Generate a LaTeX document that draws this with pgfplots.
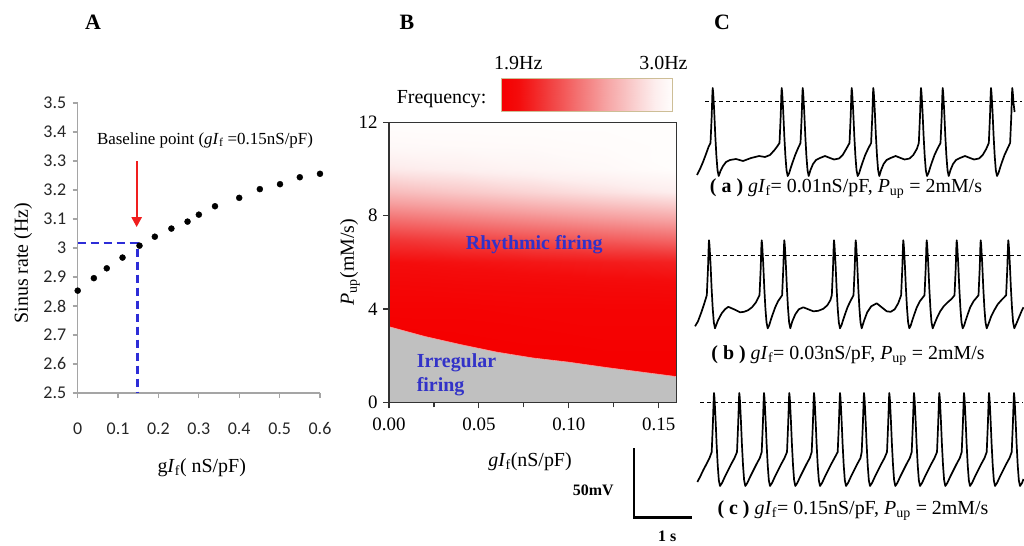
\documentclass[border=0pt]{standalone}
\usepackage{pgfplots}
\usepackage{pgfplotstable}
\pgfplotsset{compat=1.18}
\usepackage{fontspec}
\setmainfont{Liberation Serif}
\newfontfamily\carlito{Carlito}
\usetikzlibrary{arrows.meta}
\definecolor{bluedash}{RGB}{45,45,215}
\definecolor{txtblue}{RGB}{50,50,200}
\definecolor{graybg}{RGB}{192,192,192}
\definecolor{cbframe}{RGB}{205,190,150}
\definecolor{axgray}{RGB}{165,165,165}
\definecolor{redarrow}{RGB}{240,30,30}
\newcommand{\fs}[1]{\fontsize{#1}{#1}\selectfont}
\pgfplotsset{colormap={rw}{rgb255(0cm)=(245,0,0) rgb255(1cm)=(244,12,12) rgb255(2.5cm)=(242,55,55) rgb255(4.5cm)=(243,115,115) rgb255(6cm)=(246,160,160) rgb255(7.5cm)=(249,200,200) rgb255(9cm)=(253,238,238) rgb255(10cm)=(255,253,252)}}

\pgfplotstableread{
x y f
0 0 1.90
0.04 0 1.90
0.08 0 1.90
0.12 0 1.90
0.16 0 1.90
0 1 1.90
0.04 1 1.90
0.08 1 1.90
0.12 1 1.90
0.16 1 1.90
0 2 1.90
0.04 2 1.90
0.08 2 1.90
0.12 2 1.90
0.16 2 1.90
0 3 1.90
0.04 3 1.905
0.08 3 1.91
0.12 3 1.92
0.16 3 1.92
0 4 1.92
0.04 4 1.92
0.08 4 1.93
0.12 4 1.93
0.16 4 1.93
0 5 1.955
0.04 5 1.963
0.08 5 1.97
0.12 5 1.98
0.16 5 1.988
0 6 2.01
0.04 6 2.03
0.08 6 2.05
0.12 6 2.07
0.16 6 2.09
0 7 2.175
0.04 7 2.22
0.08 7 2.27
0.12 7 2.315
0.16 7 2.36
0 8 2.417
0.04 8 2.467
0.08 8 2.516
0.12 8 2.566
0.16 8 2.615
0 9 2.67
0.04 9 2.725
0.08 9 2.78
0.12 9 2.835
0.16 9 2.89
0 10 2.868
0.04 10 2.90
0.08 10 2.934
0.12 10 2.967
0.16 10 3.00
0 11 2.967
0.04 11 2.975
0.08 11 2.98
0.12 11 2.99
0.16 11 3.00
0 12 3.00
0.04 12 3.00
0.08 12 3.00
0.12 12 3.00
0.16 12 3.00
}\heat

\pgfplotstableread{
x y f
1.9 0 1.9
2.0 0 2.0
2.1 0 2.1
2.2 0 2.2
2.3 0 2.3
2.4 0 2.4
2.5 0 2.5
2.6 0 2.6
2.7 0 2.7
2.8 0 2.8
2.9 0 2.9
3.0 0 3.0
1.9 1 1.9
2.0 1 2.0
2.1 1 2.1
2.2 1 2.2
2.3 1 2.3
2.4 1 2.4
2.5 1 2.5
2.6 1 2.6
2.7 1 2.7
2.8 1 2.8
2.9 1 2.9
3.0 1 3.0
}\cbar

\begin{document}
\begin{tikzpicture}
\fill[white] (0,0) rectangle (1024bp,-546bp);
\useasboundingbox (0,0) rectangle (1024bp,-546bp);

% ---------------- Panel A ----------------
\begin{axis}[
  scale only axis, width=242.3bp, height=290bp,
  at={(77.7bp,-393bp)}, anchor=south west,
  xmin=0, xmax=0.6, ymin=2.5, ymax=3.5,
  axis x line*=bottom, axis y line*=left,
  axis line style={axgray, line width=1.2bp},
  tick style={axgray, line width=1.2bp},
  tick align=outside, major tick length=5bp,
  xtick={0,0.1,0.2,0.3,0.4,0.5,0.6},
  xticklabels={0,0.1,0.2,0.3,0.4,0.5,0.6},
  ytick={2.5,2.6,2.7,2.8,2.9,3,3.1,3.2,3.3,3.4,3.5},
  yticklabels={2.5,2.6,2.7,2.8,2.9,3,3.1,3.2,3.3,3.4,3.5},
  ticklabel style={font=\carlito\fs{18}, text=black!85},
  xticklabel style={yshift=-21bp},
  yticklabel style={xshift=-3bp},
  clip=false]
\addplot[bluedash, line width=2.2bp, dash pattern=on 8bp off 5bp] coordinates {(0,3.016) (0.148,3.016) (0.148,2.5)};
\addplot[redarrow, line width=2.3bp, -{Triangle[length=10bp,width=10bp]}] coordinates {(0.146,3.30) (0.146,3.072)};
\addplot[only marks, mark=*, mark size=3bp, black] coordinates {
(0,2.853) (0.040,2.896) (0.072,2.930) (0.111,2.967) (0.153,3.008)
(0.191,3.039) (0.232,3.067) (0.272,3.091) (0.300,3.115) (0.340,3.144)
(0.400,3.173) (0.451,3.203) (0.501,3.220) (0.550,3.244) (0.600,3.256)};
\end{axis}

% ---------------- Panel B ----------------
\begin{axis}[
  scale only axis, width=287.7bp, height=280bp,
  at={(389bp,-402.3bp)}, anchor=south west,
  xmin=0, xmax=0.16, ymin=0, ymax=12,
  colormap name=rw, point meta min=1.9, point meta max=3.0,
  axis on top,
  axis line style={black!80, line width=1.1bp},
  tick style={black!80, line width=1.1bp},
  tick align=outside, tick pos=left,
  major tick length=6bp, minor tick length=5bp,
  xtick={0,0.05,0.1,0.15}, xticklabels={0.00,0.05,0.10,0.15},
  minor xtick={0.025,0.075,0.125},
  ytick={0,4,8,12}, yticklabels={0,4,8,12},
  ticklabel style={font=\fs{19}},
  xticklabel style={yshift=-6bp},
  yticklabel style={xshift=-2bp},
  clip=true]
\addplot[surf, shader=interp, mesh/cols=5, point meta=explicit] table[x=x, y=y, meta=f] {\heat};
\addplot[fill=graybg, draw=white!60!red, line width=0.6bp] coordinates {
(0,0) (0,3.24) (0.02,2.82) (0.04,2.47) (0.06,2.15) (0.08,1.90) (0.10,1.72)
(0.12,1.50) (0.14,1.30) (0.16,1.10) (0.16,0)} -- cycle;
\end{axis}

% colour bar
\begin{axis}[
  scale only axis, width=170.6bp, height=33.4bp,
  at={(501.7bp,-111.7bp)}, anchor=south west,
  xmin=1.9, xmax=3.0, ymin=0, ymax=1,
  colormap name=rw, point meta min=1.9, point meta max=3.0,
  axis on top, xtick=\empty, ytick=\empty,
  axis line style={cbframe, line width=1.5bp}]
\addplot[surf, shader=interp, mesh/cols=12, point meta=explicit] table[x=x, y=y, meta=f] {\cbar};
\end{axis}

% ---------------- Panel C traces ----------------
\begin{axis}[scale only axis, width=334bp, height=100bp,
  at={(690bp,-176bp)}, anchor=south west,
  xmin=690, xmax=1024, ymin=0, ymax=100, hide axis, clip=false]
\addplot[black, line width=0.9bp, dash pattern=on 4bp off 3bp] coordinates {(705,75) (1022,75)};
\addplot[black, line width=1.7bp, line join=round] coordinates {
(697,1) (700,7) (703,14) (706,22) (708.5,29)
(710.5,33) (711.7,60) (712.4,83) (712.7,88) (713.2,83) (714.2,65) (715.3,40) (716.4,20) (717.5,6) (718.7,0)
(720.5,5) (723,10) (726,14) (730,16) (736,17) (743,15) (751,18) (759,20) (765,19) (770,21) (774.5,26) (777.5,30)
(779.5,33) (780.7,60) (781.4,83) (781.7,88) (782.2,83) (783.2,65) (784.3,40) (785.4,20) (786.5,6) (787.7,0)
(789.2,3) (790.7,8) (792.7,14) (795.2,21) (797.7,27)
(800.5,33) (801.7,60) (802.4,83) (802.7,88) (803.2,83) (804.2,65) (805.3,40) (806.4,20) (807.5,6) (808.7,0)
(810.5,6) (813,12) (816,16) (820,18) (825,20) (830,18) (834,16.5) (839,17.5) (842.7,21) (846.2,27)
(849.5,33) (850.7,60) (851.4,83) (851.7,88) (852.2,83) (853.2,65) (854.3,40) (855.4,20) (856.5,6) (857.7,0)
(859.2,3) (860.7,8) (862.7,14) (865.2,21) (868,27)
(871.1,33) (872.3,60) (873,83) (873.3,88) (873.8,83) (874.8,65) (875.9,40) (877,20) (878.1,6) (879.3,0)
(881.1,6) (883.6,12) (886.6,16) (890.6,18) (895.6,20) (900.6,18) (904.6,16.5) (909.6,17.5) (913.3,21) (916.8,27)
(918.8,33) (920,60) (920.7,83) (921,88) (921.5,83) (922.5,65) (923.6,40) (924.7,20) (925.8,6) (927,0)
(928.5,3) (930,8) (932,14) (934.5,21) (937.3,27)
(940.5,33) (941.7,60) (942.4,83) (942.7,88) (943.2,83) (944.2,65) (945.3,40) (946.4,20) (947.5,6) (948.7,0)
(950.5,6) (953,12) (956,16) (960,18) (965,20) (970,18) (974,16.5) (979,17.5) (982.7,21) (986.2,27)
(988.8,33) (990,60) (990.7,83) (991,88) (991.5,83) (992.5,65) (993.6,40) (994.7,20) (995.8,6) (997,0)
(998.5,3) (1000,8) (1002,14) (1004.5,21) (1007.3,27)
(1010.1,33) (1011.3,60) (1012,83) (1012.3,88) (1012.8,83) (1013.6,72) (1014.6,64)};
\end{axis}

\begin{axis}[scale only axis, width=334bp, height=100bp,
  at={(690bp,-328.3bp)}, anchor=south west,
  xmin=690, xmax=1024, ymin=0, ymax=100, hide axis, clip=false]
\addplot[black, line width=0.9bp, dash pattern=on 4bp off 3bp] coordinates {(701.7,73) (1023,73)};
\addplot[black, line width=1.7bp, line join=round] coordinates {
(695,2) (698,7) (701,15) (704,24) (706.8,33)
(708,60) (708.7,83) (709,88) (709.5,83) (710.5,65) (711.6,40) (712.7,20) (713.8,6) (715,0)
(718,8) (721.7,15) (725,19) (728.3,21.5) (734,19) (740,16) (744,16.5) (748,18) (752,21) (756,26)
(759.5,33) (760.7,60) (761.4,83) (761.7,88) (762.2,83) (763.2,65) (764.3,40) (765.4,20) (766.5,6) (767.7,0)
(769.2,3) (770.7,8) (772.7,14) (775.2,21) (778,27)
(782.1,33) (783.3,60) (784,83) (784.3,88) (784.8,83) (785.8,65) (786.9,40) (788,20) (789.1,6) (790.3,0)
(792.3,7) (795.3,14) (798.8,19) (803.3,21) (808.3,19) (813.3,17) (818.3,17.5) (823.3,19.5) (827.3,23) (830.3,28)
(831.8,33) (833,60) (833.7,83) (834,88) (834.5,83) (835.5,65) (836.6,40) (837.7,20) (838.8,6) (840,0)
(841.5,3) (843,8) (845,14) (847.5,21) (850.3,27)
(853.5,33) (854.7,60) (855.4,83) (855.7,88) (856.2,83) (857.2,65) (858.3,40) (859.4,20) (860.5,6) (861.7,0)
(864.2,8) (867.2,16) (871.2,22) (876.7,25) (881.7,21) (886.7,17) (890.7,16.5) (894.7,19) (898.2,25)
(901.1,33) (902.3,60) (903,83) (903.3,88) (903.8,83) (904.8,65) (905.9,40) (907,20) (908.1,6) (909.3,0)
(910.8,3) (912.3,8) (914.3,14) (916.8,21) (919.8,27)
(924.5,33) (925.7,60) (926.4,83) (926.7,88) (927.2,83) (928.2,65) (929.3,40) (930.4,20) (931.5,6) (932.7,0)
(934.7,5) (937.2,11) (940.2,17) (943.7,22) (947.7,26) (951.7,29.5)
(954.5,33) (955.7,60) (956.4,83) (956.7,88) (957.2,83) (958.2,65) (959.3,40) (960.4,20) (961.5,6) (962.7,0)
(964.2,3) (965.7,8) (967.7,14) (970.2,21) (973.5,27)
(978.5,33) (979.7,60) (980.4,83) (980.7,88) (981.2,83) (982.2,65) (983.3,40) (984.4,20) (985.5,6) (986.7,0)
(988.7,5) (991.2,12) (994.2,18) (997.7,24) (1001.7,28.5)
(1006.1,33) (1007.3,60) (1008,83) (1008.3,88) (1008.8,83) (1009.8,65) (1010.9,40) (1012,20) (1013.1,6) (1014.3,0)
(1016.5,5) (1019,11) (1021.5,17) (1023.5,21)};
\end{axis}

\begin{axis}[scale only axis, width=334bp, height=100bp,
  at={(690bp,-486bp)}, anchor=south west,
  xmin=690, xmax=1024, ymin=0, ymax=100, hide axis, clip=false]
\addplot[black, line width=0.9bp, dash pattern=on 4bp off 3bp] coordinates {(700,84) (1023,84)};
\addplot[black, line width=1.7bp, line join=round] coordinates {
(697.3,4) (700,9) (703.3,16) (706.5,22) (709.5,28)
(711.7,34) (712.9,63) (713.7,88) (714,93) (714.5,88) (715.5,68) (716.6,42) (717.7,21) (718.8,6) (720,0)
(722,3) (725,9.5) (728,15.5) (731.5,22.5) (734.5,28)
(737,34) (738.2,63) (739,88) (739.3,93) (739.8,88) (740.8,68) (741.9,42) (743,21) (744.1,6) (745.3,0)
(747.3,3) (750.3,9.5) (753.3,15.5) (756.8,22.5) (759.8,28)
(761.7,34) (762.9,63) (763.7,88) (764,93) (764.5,88) (765.5,68) (766.6,42) (767.7,21) (768.8,6) (770,0)
(772,3) (775,9.5) (778,15.5) (781.5,22.5) (784.5,28)
(787,34) (788.2,63) (789,88) (789.3,93) (789.8,88) (790.8,68) (791.9,42) (793,21) (794.1,6) (795.3,0)
(797.3,3) (800.3,9.5) (803.3,15.5) (806.8,22.5) (809.8,28)
(811.7,34) (812.9,63) (813.7,88) (814,93) (814.5,88) (815.5,68) (816.6,42) (817.7,21) (818.8,6) (820,0)
(822,3) (825,9.5) (828,15.5) (831.5,22.5) (834.5,28)
(837.7,34) (838.9,63) (839.7,88) (840,93) (840.5,88) (841.5,68) (842.6,42) (843.7,21) (844.8,6) (846,0)
(848,3) (851,9.5) (854,15.5) (857.5,22.5) (860.5,28)
(861.7,34) (862.9,63) (863.7,88) (864,93) (864.5,88) (865.5,68) (866.6,42) (867.7,21) (868.8,6) (870,0)
(872,3) (875,9.5) (878,15.5) (881.5,22.5) (884.5,28)
(887,34) (888.2,63) (889,88) (889.3,93) (889.8,88) (890.8,68) (891.9,42) (893,21) (894.1,6) (895.3,0)
(897.3,3) (900.3,9.5) (903.3,15.5) (906.8,22.5) (909.8,28)
(911.7,34) (912.9,63) (913.7,88) (914,93) (914.5,88) (915.5,68) (916.6,42) (917.7,21) (918.8,6) (920,0)
(922,3) (925,9.5) (928,15.5) (931.5,22.5) (934.5,28)
(937,34) (938.2,63) (939,88) (939.3,93) (939.8,88) (940.8,68) (941.9,42) (943,21) (944.1,6) (945.3,0)
(947.3,3) (950.3,9.5) (953.3,15.5) (956.8,22.5) (959.8,28)
(961.7,34) (962.9,63) (963.7,88) (964,93) (964.5,88) (965.5,68) (966.6,42) (967.7,21) (968.8,6) (970,0)
(972,3) (975,9.5) (978,15.5) (981.5,22.5) (984.5,28)
(986.7,34) (987.9,63) (988.7,88) (989,93) (989.5,88) (990.5,68) (991.6,42) (992.7,21) (993.8,6) (995,0)
(997,3) (1000,9.5) (1003,15.5) (1006.5,22.5) (1009.5,28)
(1011.7,34) (1012.9,63) (1013.7,88) (1014,93) (1014.5,88) (1015.5,68) (1016.6,42) (1017.7,21) (1018.8,6) (1020,0)
(1022,3) (1023.5,7)};
% scale bar
\addplot[black, line width=2.4bp] coordinates {(634,38) (634,-31.3) (691.7,-31.3)};
\end{axis}

% ---------------- Text ----------------
\node[font=\bfseries\fs{22}] at (93bp,-22bp) {A};
\node[font=\bfseries\fs{22}] at (407bp,-22bp) {B};
\node[font=\bfseries\fs{22}] at (722bp,-22bp) {C};

\node[font=\fs{20}, rotate=90] at (23bp,-263bp) {Sinus rate (Hz)};
\node[font=\fs{20}] at (201.7bp,-468bp) {g\textit{I}\textsubscript{f}( nS/pF)};
\node[font=\fs{17}] at (205bp,-140bp) {Baseline point (\textit{gI}\textsubscript{f} =0.15nS/pF)};

\node[font=\fs{20}, anchor=east] at (490bp,-99bp) {Frequency:};
\node[font=\fs{20}] at (518.3bp,-63bp) {1.9Hz};
\node[font=\fs{20}] at (663.5bp,-63bp) {3.0Hz};
\node[font=\fs{20}, rotate=90] at (350bp,-262bp) {\textit{P}\textsubscript{up}(mM/s)};
\node[font=\fs{20}] at (530bp,-462bp) {\textit{gI}\textsubscript{f}(nS/pF)};
\node[font=\bfseries\fs{20}, text=txtblue] at (534.3bp,-244.3bp) {Rhythmic firing};
\node[font=\bfseries\fs{20}, text=txtblue, anchor=west] at (413.3bp,-362.7bp) {Irregular};
\node[font=\bfseries\fs{20}, text=txtblue, anchor=west] at (413.3bp,-386.7bp) {firing};

\node[font=\bfseries\fs{16}] at (593.3bp,-490bp) {50mV};
\node[font=\bfseries\fs{16}] at (667.3bp,-536bp) {1 s};

\node[font=\fs{20}] at (846bp,-189bp) {\textbf{( a )} \textit{gI}\textsubscript{f}= 0.01nS/pF, \textit{P}\textsubscript{up} = 2mM/s};
\node[font=\fs{20}] at (848bp,-356bp) {\textbf{( b )} \textit{gI}\textsubscript{f}= 0.03nS/pF, \textit{P}\textsubscript{up} = 2mM/s};
\node[font=\fs{20}] at (853bp,-511bp) {\textbf{( c )} \textit{gI}\textsubscript{f}= 0.15nS/pF, \textit{P}\textsubscript{up} = 2mM/s};
\end{tikzpicture}
\end{document}
